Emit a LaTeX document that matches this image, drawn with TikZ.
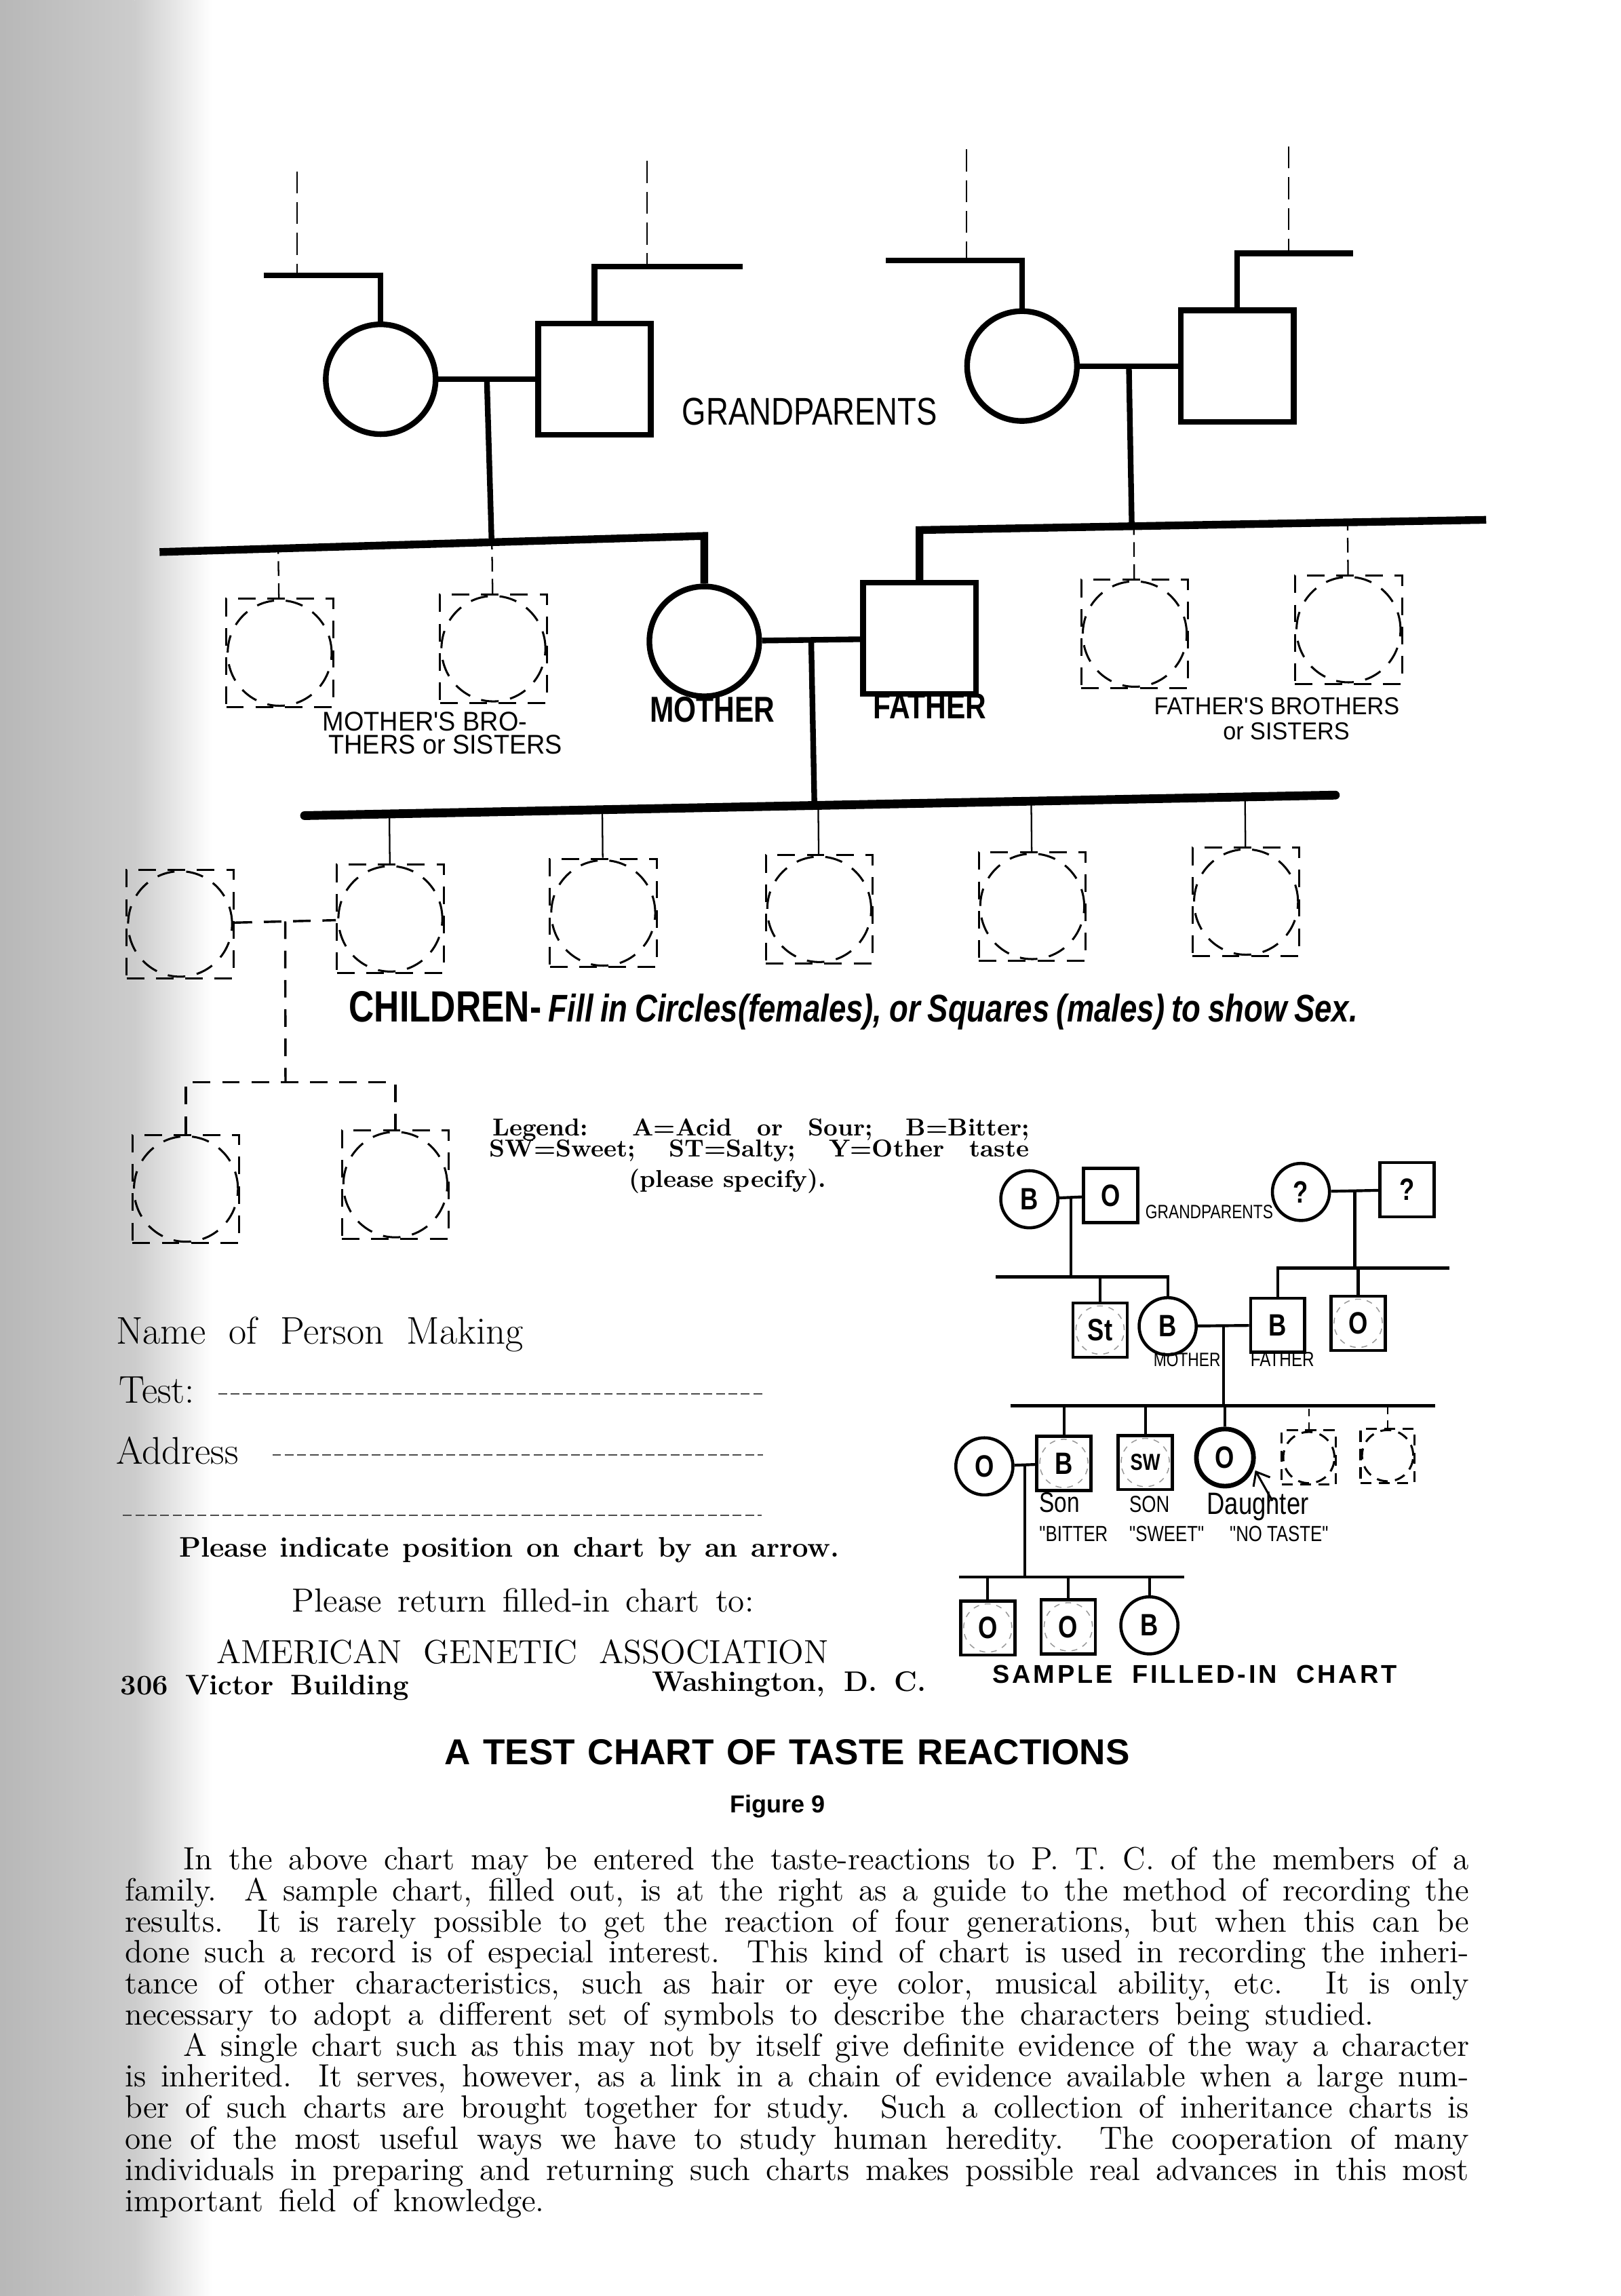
\documentclass[tikz,border=0pt]{standalone}
\usepackage{fontspec}
\usetikzlibrary{shapes.geometric,arrows.meta,calc}
\newfontfamily\handfont[FakeStretch=0.8]{Liberation Sans}
\newfontfamily\handwide[FakeStretch=0.95]{Liberation Sans}
\newfontfamily\headfont{Liberation Sans}
\newcommand\spreadto[2]{\makebox[#1][s]{#2}}

\begin{document}
\begin{tikzpicture}[x=0.2mm,y=-0.2mm,
  >={Straight Barb[length=1.6mm,width=2.6mm]},
  fem/.style={circle,draw,line width=2.2pt,minimum size=15mm,inner sep=0pt},
  mal/.style={rectangle,draw,line width=2.2pt,minimum width=15.4mm,minimum height=15.2mm,inner sep=0pt},
  brk/.style={dash pattern=on 2.4mm off 1.6mm},
  tmpl/.style={rectangle,draw,brk,line width=.8pt,minimum width=14.6mm,minimum height=14.8mm,inner sep=0pt,
    path picture={\draw[brk,line width=.8pt] (path picture bounding box.center) ellipse [x radius=7.1mm,y radius=7.2mm];}},
  ped/.style={line width=2.2pt},
  gen/.style={line width=3pt},
  twig/.style={line width=.6pt},
  up/.style={line width=.6pt,dash pattern=on 3mm off 1.2mm},
  upl/.style={line width=.6pt,dash pattern=on 2mm off 1mm},
  sfem/.style={circle,draw,line width=1.2pt,minimum size=7.8mm,inner sep=0pt,font=\handfont\bfseries\fontsize{12}{12}\selectfont},
  smal/.style={rectangle,draw,line width=1.2pt,minimum size=7.4mm,inner sep=0pt,font=\handfont\bfseries\fontsize{12}{12}\selectfont},
  stmpl/.style={rectangle,draw,line width=.8pt,dash pattern=on 1.5mm off 1mm,minimum size=7.4mm,inner sep=0pt,
    path picture={\draw[line width=.8pt,dash pattern=on 1.5mm off 1mm] (path picture bounding box.center) circle [radius=3.5mm];}},
  ghost/.style={path picture={\draw[black!40,line width=.4pt,dash pattern=on .8mm off .8mm] (path picture bounding box.center) circle [radius=3.3mm];}},
  sline/.style={line width=1.1pt},
  form/.style={line width=.5pt,black!70,dash pattern=on 1.2mm off .5mm},
  hand/.style={inner sep=0pt,font=\handfont\fontsize{#1}{#1}\selectfont},
  handw/.style={inner sep=0pt,font=\handwide\fontsize{#1}{#1}\selectfont},
  txt/.style={inner sep=0pt,anchor=base west}]
\fill[white] (0,0) rectangle (1107,1568);
\shade[left color=black!28,right color=black!20] (0,0) rectangle (92,1568);
\shade[left color=black!20,right color=white] (92,0) rectangle (145,1568);

\node[fem] (gm1) at (260,259) {};
\node[mal] (gf1) at (406,259) {};
\node[fem] (gm2) at (698,250) {};
\node[mal] (gf2) at (845,250) {};
\node[fem] (mo) at (481,438) {};
\node[mal] (fa) at (628,436) {};
\coordinate (t1) at (180,188);
\coordinate (t2) at (507,182);
\coordinate (t3) at (605,178);
\coordinate (t4) at (924,173);
\coordinate (u1) at (203,117);
\coordinate (u2) at (442,110);
\coordinate (u3) at (660,102);
\coordinate (u4) at (880,100);
\draw[ped] (t1) -| (gm1);
\draw[ped] (t2) -| (gf1);
\draw[ped] (t3) -| (gm2);
\draw[ped] (t4) -| (gf2);
\draw[up] (u1) -- (u1 |- t1);
\draw[up] (u2) -- (u2 |- t2);
\draw[up] (u3) -- (u3 |- t3);
\draw[up] (u4) -- (u4 |- t4);

\coordinate (ml1) at (109,377);
\coordinate (ml2) at (481,366);
\coordinate (fl1) at (628,362);
\coordinate (fl2) at (1015,355);
\coordinate (cl1) at (208,557);
\coordinate (cl2) at (912,543);
\draw[gen] (ml1) -- (ml2) -- (mo);
\draw[gen] (fa) -- (fl1) -- (fl2);
\draw[line width=3.4pt,line cap=round] (cl1) -- (cl2);
\coordinate (d1) at ($(gm1.east)!.5!(gf1.west)$);
\coordinate (d2) at ($(gm2.east)!.5!(gf2.west)$);
\coordinate (d3) at ($(mo.east)!.5!(fa.west)$);
\draw[ped] (gm1) -- (gf1);
\draw[ped] (gm2) -- (gf2);
\draw[ped] (mo) -- (fa);
\draw[ped] (d1) -- ($(ml1)!(d1)!(ml2)$);
\draw[ped] (d2) -- ($(fl1)!(d2)!(fl2)$);
\draw[ped] (d3) -- ($(cl1)!(d3)!(cl2)$);

\node[tmpl] (ms1) at (191,446) {};
\node[tmpl] (ms2) at (337,443) {};
\node[tmpl] (fs1) at (775,433) {};
\node[tmpl] (fs2) at (921,430) {};
\draw[upl] (ms1) -- ($(ml1)!(ms1.north)!(ml2)$);
\draw[upl] (ms2) -- ($(ml1)!(ms2.north)!(ml2)$);
\draw[upl] (fs1) -- ($(fl1)!(fs1.north)!(fl2)$);
\draw[upl] (fs2) -- ($(fl1)!(fs2.north)!(fl2)$);

\node[tmpl] (c1) at (266.6,627.5) {};
\node[tmpl] (c2) at (412,623.5) {};
\node[tmpl] (c3) at (559.5,621) {};
\node[tmpl] (c4) at (705,619) {};
\node[tmpl] (c5) at (851,616) {};
\draw[twig] (c1) -- ($(cl1)!(c1.north)!(cl2)$);
\draw[twig] (c2) -- ($(cl1)!(c2.north)!(cl2)$);
\draw[twig] (c3) -- ($(cl1)!(c3.north)!(cl2)$);
\draw[twig] (c4) -- ($(cl1)!(c4.north)!(cl2)$);
\draw[twig] (c5) -- ($(cl1)!(c5.north)!(cl2)$);
\node[tmpl] (sp) at (123,631) {};
\node[tmpl] (gc1) at (127,812) {};
\node[tmpl] (gc2) at (270,809) {};
\coordinate (d4) at ($(sp.east)!.5!(c1.west)$);
\coordinate (g4) at (195,739);
\draw[line width=.9pt,brk] (sp) -- (c1);
\draw[line width=.9pt,brk] (d4) -- (g4);
\draw[line width=.9pt,brk] (gc1) -- (gc1.north |- g4) -- (gc2.north |- g4) -- (gc2);

\node[hand=15,anchor=base] (gplab) at (553,290) {GRANDPARENTS};
\node[handw=10.5,txt] (msl1) at (220,499) {MOTHER'S BRO-};
\node[handw=10.5,txt] (msl2) at (224,515) {THERS or SISTERS};
\node[hand=14,anchor=base] (mol) at (486.5,493) {\bfseries MOTHER};
\node[hand=14,anchor=base] (fal) at (635,491) {\bfseries FATHER};
\node[handw=9.5,anchor=base] (fsl1) at (872,488) {FATHER'S BROTHERS};
\node[handw=9.5,anchor=base] (fsl2) at (878.5,505) {or SISTERS};
\node[hand=15,txt] (chl) at (238,698) {\spreadto{137.8mm}{{\bfseries\fontsize{17}{17}\selectfont CHILDREN-} {\bfseries\itshape Fill in Circles(females), or Squares (males) to show Sex.}}};

\node[txt,font=\bfseries\fontsize{9.5}{9.5}\selectfont] (lg1) at (336,775.5) {\spreadto{73.4mm}{Legend: A=Acid or Sour; B=Bitter;}};
\node[txt,font=\bfseries\fontsize{9.5}{9.5}\selectfont] (lg2) at (334,790) {\spreadto{73.7mm}{SW=Sweet; ST=Salty; Y=Other taste}};
\node[anchor=base,inner sep=0pt,font=\bfseries\fontsize{9.5}{9.5}\selectfont] (lg3) at (497,811) {(please specify).};

\node[txt,font=\fontsize{15}{15}\selectfont] (nm) at (79,918) {\spreadto{55.6mm}{Name of Person Making}};
\node[txt,font=\fontsize{15}{15}\selectfont] (ts) at (81,958) {Test:};
\node[txt,font=\fontsize{15}{15}\selectfont] (ad) at (79,1000) {Address};
\draw[form] (149,952) -- (521,952);
\draw[form] (186,993.6) -- (521,993.6);
\draw[form] (84,1034.8) -- (520,1034.8);
\node[txt,font=\bfseries\fontsize{11}{11}\selectfont] (pi) at (122,1063.5) {\spreadto{90.2mm}{Please indicate position on chart by an arrow.}};
\node[txt,font=\fontsize{13}{13}\selectfont] (pr) at (199,1101) {\spreadto{63.1mm}{Please return filled-in chart to:}};
\node[txt,font=\fontsize{13}{13}\selectfont] (aga) at (147.5,1136) {\spreadto{83.6mm}{AMERICAN GENETIC ASSOCIATION}};
\node[txt,font=\bfseries\fontsize{11}{11}\selectfont] (vb) at (82,1157.5) {\spreadto{39.4mm}{306 Victor Building}};
\node[txt,font=\bfseries\fontsize{11}{11}\selectfont] (wdc) at (445,1155) {\spreadto{37.4mm}{Washington, D. C.}};

\node[sfem] (sgm1) at (703,819) {B};
\node[smal] (sgf1) at (758.5,816.5) {O};
\node[sfem] (sgm2) at (888.5,814) {?};
\node[smal] (sgf2) at (961,812.5) {?};
\node[smal,ghost] (sst) at (751.3,908.3) {St};
\node[sfem] (smo) at (797.5,905.7) {B};
\node[smal] (sfa) at (872.6,905) {B};
\node[smal,ghost] (sfs) at (927.6,903.7) {O};
\node[smal,ghost] (sson1) at (726.6,999.4) {B};
\node[smal,ghost,font=\handfont\bfseries\fontsize{9}{9}\selectfont] (sson2) at (782.2,998.8) {SW};
\node[sfem,line width=1.8pt] (sda) at (836.6,995.4) {O};
\node[stmpl] (st1) at (893.9,995.4) {};
\node[stmpl] (st2) at (947.7,994.1) {};
\node[sfem] (ssp) at (672.3,1001.4) {O};
\node[smal,ghost] (sgc1) at (674.6,1111.8) {O};
\node[smal,ghost] (sgc2) at (729.6,1111) {O};
\node[sfem] (sgc3) at (785,1110) {B};

\coordinate (e1) at ($(sgm1.east)!.5!(sgf1.west)$);
\coordinate (e2) at ($(sgm2.east)!.5!(sgf2.west)$);
\coordinate (e3) at ($(smo.east)!.5!(sfa.west)$);
\coordinate (e4) at ($(ssp.east)!.5!(sson1.west)$);
\coordinate (sl1) at (680,872);
\coordinate (sl2) at (797.5,872);
\coordinate (sr1) at (872.6,866);
\coordinate (sr2) at (990,866);
\coordinate (sc1) at (690,960);
\coordinate (sc2) at (980,960);
\coordinate (sg1) at (655,1077);
\coordinate (sg2) at (809,1077);
\draw[sline] (sgm1) -- (sgf1);
\draw[sline] (sgm2) -- (sgf2);
\draw[sline] (smo) -- (sfa);
\draw[sline] (ssp) -- (sson1);
\draw[sline] (e1) -- (e1 |- sl1);
\draw[sline] (e2) -- (e2 |- sr1);
\draw[sline] (e3) -- (e3 |- sc1);
\draw[sline] (e4) -- (e4 |- sg1);
\draw[sline] (sl1) -- (sl2) -- (smo);
\draw[sline] (sfa) -- (sr1) -- (sr2);
\draw[sline] (sc1) -- (sc2);
\draw[sline] (sg1) -- (sg2);
\draw[sline] (sst) -- (sst.north |- sl1);
\draw[sline] (sfs) -- (sfs.north |- sr1);
\draw[sline] (sson1) -- (sson1.north |- sc1);
\draw[sline] (sson2) -- (sson2.north |- sc1);
\draw[sline] (sda) -- (sda.north |- sc1);
\draw[twig,dash pattern=on 1mm off .8mm] (st1) -- (st1.north |- sc1);
\draw[twig,dash pattern=on 1mm off .8mm] (st2) -- (st2.north |- sc1);
\draw[sline] (sgc1) -- (sgc1.north |- sg1);
\draw[sline] (sgc2) -- (sgc2.north |- sg1);
\draw[sline] (sgc3) -- (sgc3.north |- sg1);
\coordinate (atail) at (869,1025);
\draw[->,line width=.8pt,shorten >=1pt] (atail) -- (sda.-20);

\node[hand=7.5,txt] (sgpl) at (782,832) {GRANDPARENTS};
\node[hand=7.5,txt] (smol) at (787.5,933) {MOTHER};
\node[hand=8,txt] (sfal) at (853.7,933) {FATHER};
\node[hand=11,txt] (lson1) at (709.5,1032.7) {Son};
\node[hand=9,txt] (lson2) at (771,1032.7) {SON};
\node[hand=12,txt] (ldau) at (824,1034) {Daughter};
\node[hand=8.5,txt] (lbit) at (709.5,1052.6) {"BITTER};
\node[hand=8.5,txt] (lswe) at (771,1052.6) {"SWEET"};
\node[hand=8.5,txt] (lnot) at (839.5,1052.6) {"NO TASTE"};
\node[txt,font=\headfont\bfseries\fontsize{10}{10}\selectfont\addfontfeature{LetterSpace=10}] (smp) at (677.6,1149.5) {\spreadto{55.2mm}{SAMPLE FILLED-IN CHART}};

\node[anchor=base,inner sep=0pt,font=\headfont\bfseries\fontsize{14}{14}\selectfont] (ttl) at (537.5,1205) {\spreadto{93.6mm}{A TEST CHART OF TASTE REACTIONS}};
\node[anchor=base,inner sep=0pt,font=\headfont\bfseries\fontsize{9.5}{9.5}\selectfont] (fig) at (531,1238) {Figure 9};
\node[anchor=north west,inner sep=0pt,align=left,font=\fontsize{12.5}{12.07}\selectfont] (body) at (85,1261) {%
\hspace*{8mm}\spreadto{175.6mm}{In the above chart may be entered the taste-reactions to P. T. C. of the members of a}\\
\spreadto{183.6mm}{family. A sample chart, filled out, is at the right as a guide to the method of recording the}\\
\spreadto{183.6mm}{results. It is rarely possible to get the reaction of four generations, but when this can be}\\
\spreadto{183.6mm}{done such a record is of especial interest. This kind of chart is used in recording the inheri-}\\
\spreadto{183.6mm}{tance of other characteristics, such as hair or eye color, musical ability, etc. It is only}\\
\spreadto{170.6mm}{necessary to adopt a different set of symbols to describe the characters being studied.}\\
\hspace*{8mm}\spreadto{175.6mm}{A single chart such as this may not by itself give definite evidence of the way a character}\\
\spreadto{183.6mm}{is inherited. It serves, however, as a link in a chain of evidence available when a large num-}\\
\spreadto{183.6mm}{ber of such charts are brought together for study. Such a collection of inheritance charts is}\\
\spreadto{183.6mm}{one of the most useful ways we have to study human heredity. The cooperation of many}\\
\spreadto{183.6mm}{individuals in preparing and returning such charts makes possible real advances in this most}\\
\spreadto{57.3mm}{important field of knowledge.}};
\end{tikzpicture}
\end{document}
